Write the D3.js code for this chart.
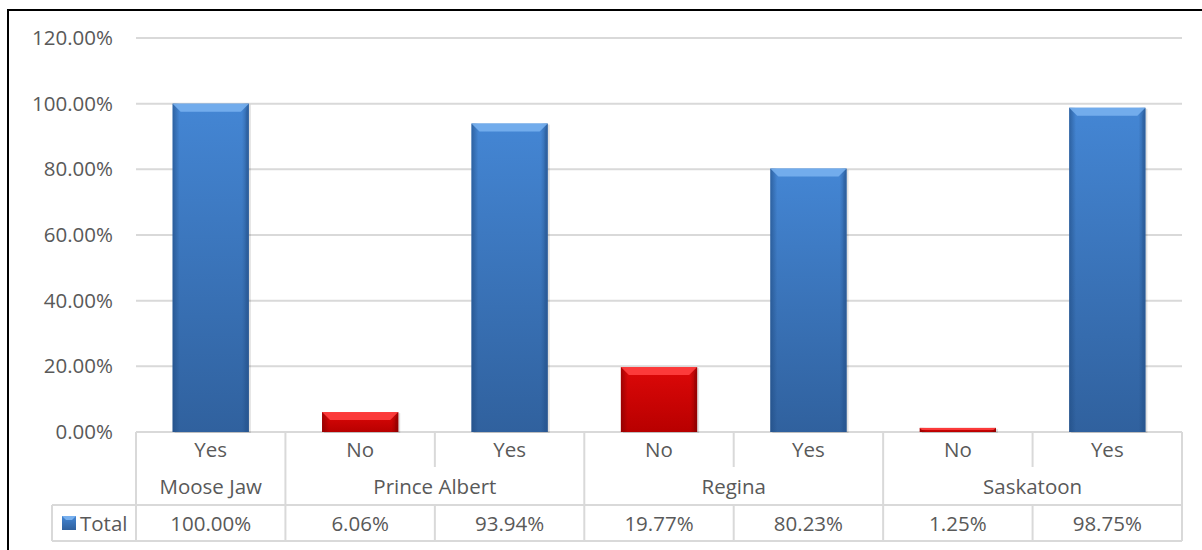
<!DOCTYPE html>
<html><head><meta charset="utf-8">
<script src="https://cdn.jsdelivr.net/npm/d3@7"></script>
<style>body{margin:0;background:#fff}svg{display:block}text{font-family:"Open Sans",sans-serif;fill:#595959}</style>
</head><body><svg id="c" width="1202" height="550"></svg>
<script>
const cities = ["Moose Jaw","Prince Albert","Prince Albert","Regina","Regina","Saskatoon","Saskatoon"];
const answers = ["Yes","No","Yes","No","Yes","No","Yes"];
const values = [100.00, 6.06, 93.94, 19.77, 80.23, 1.25, 98.75];
const groups = ["Moose Jaw","Prince Albert","Regina","Saskatoon"];
const yTicks = [0,20,40,60,80,100,120];
const seriesName = "Total";

const svg = d3.select("#c");
const L=136,R=1182,T=38,B=432;
const FS=20.5;
const idx = d3.range(values.length);
const x = d3.scaleBand().domain(idx).range([L,R]).padding(0);
const y = d3.scaleLinear().domain([0,120]).range([B,T]);
const fmt = v => v.toFixed(2)+"%";

// frame
svg.append("path").attr("d","M8,552 L8,10 L1204,10").attr("fill","none").attr("stroke","#000").attr("stroke-width",2);

const defs = svg.append("defs");
function grads(id,top,bot,edge){
  const g=defs.append("linearGradient").attr("id",id+"v").attr("x1",0).attr("y1",0).attr("x2",0).attr("y2",1);
  g.append("stop").attr("offset",0).attr("stop-color",top);
  g.append("stop").attr("offset",1).attr("stop-color",bot);
  const h=defs.append("linearGradient").attr("id",id+"h").attr("x1",0).attr("y1",0).attr("x2",1).attr("y2",0);
  h.append("stop").attr("offset",0).attr("stop-color",edge).attr("stop-opacity",0.6);
  h.append("stop").attr("offset",0.09).attr("stop-color",edge).attr("stop-opacity",0);
  h.append("stop").attr("offset",0.91).attr("stop-color",edge).attr("stop-opacity",0);
  h.append("stop").attr("offset",1).attr("stop-color",edge).attr("stop-opacity",0.6);
}
grads("blue","#4486d4","#30619e","#1f4a80");
grads("red","#dd0808","#b80000","#7a0000");

// grid
svg.append("g").selectAll("line").data(yTicks).join("line")
  .attr("x1",L).attr("x2",R).attr("y1",d=>y(d)).attr("y2",d=>y(d))
  .attr("stroke","#d9d9d9").attr("stroke-width",2);
// y axis labels
svg.append("g").selectAll("text").data(yTicks).join("text")
  .attr("x",113).attr("y",d=>y(d)+7).attr("text-anchor","end").attr("font-size",FS).text(d=>d.toFixed(2)+"%");

// bars
const bw = x.bandwidth()*0.51;
const bars = svg.append("g").selectAll("g").data(idx).join("g");
bars.each(function(i){
  const g=d3.select(this);
  const col = answers[i]==="Yes"?"blue":"red";
  const x0 = x(i)+(x.bandwidth()-bw)/2, y0=y(values[i]), h=B-y0;
  g.append("rect").attr("x",x0+2).attr("y",y0+1).attr("width",bw).attr("height",h).attr("fill","#000").attr("opacity",0.12);
  g.append("rect").attr("x",x0).attr("y",y0).attr("width",bw).attr("height",h).attr("fill",`url(#${col}v)`);
  g.append("rect").attr("x",x0).attr("y",y0).attr("width",bw).attr("height",h).attr("fill",`url(#${col}h)`);
  const bev = Math.min(8,h/2);
  const light = col==="blue"?"#78b0ee":"#ff4040";
  g.append("path").attr("d",`M${x0},${y0} L${x0+bw},${y0} L${x0+bw-bev},${y0+bev} L${x0+bev},${y0+bev} Z`).attr("fill",light).attr("opacity",0.9);
  const dark = col==="blue"?"#2a5a96":"#8a0000";
  g.append("path").attr("d",`M${x0+bw},${y0} L${x0+bw},${y0+h} L${x0+bw-3},${y0+h} L${x0+bw-3},${y0+bev}`).attr("fill",dark).attr("opacity",0.35);
});

// data table
const tc="#d9d9d9";
const r1=432,r2=467,r3=505,r4=541;
const tg=svg.append("g").attr("stroke",tc).attr("stroke-width",2);
tg.append("line").attr("x1",52).attr("x2",R).attr("y1",r3).attr("y2",r3);
tg.append("line").attr("x1",52).attr("x2",R).attr("y1",r4).attr("y2",r4);
const bounds = idx.map(i=>x(i)).concat([R]);
bounds.forEach(b=>{
  tg.append("line").attr("x1",b).attr("x2",b).attr("y1",r1).attr("y2",r2);
  tg.append("line").attr("x1",b).attr("x2",b).attr("y1",r3).attr("y2",r4);
});
const gStart = groups.map(gn=>cities.indexOf(gn));
const gEnd = groups.map(gn=>cities.lastIndexOf(gn));
gStart.forEach(s=>{tg.append("line").attr("x1",x(s)).attr("x2",x(s)).attr("y1",r2).attr("y2",r3);});
tg.append("line").attr("x1",R).attr("x2",R).attr("y1",r2).attr("y2",r3);
tg.append("line").attr("x1",52).attr("x2",52).attr("y1",r3).attr("y2",r4);

svg.append("g").selectAll("text").data(idx).join("text")
  .attr("x",i=>x(i)+x.bandwidth()/2).attr("y",457).attr("text-anchor","middle").attr("font-size",FS).text(i=>answers[i]);
svg.append("g").selectAll("text").data(groups).join("text")
  .attr("x",(g,k)=>(x(gStart[k])+x(gEnd[k])+x.bandwidth())/2).attr("y",494).attr("text-anchor","middle").attr("font-size",FS).text(d=>d);
svg.append("g").selectAll("text").data(idx).join("text")
  .attr("x",i=>x(i)+x.bandwidth()/2).attr("y",531).attr("text-anchor","middle").attr("font-size",FS).text(i=>fmt(values[i]));
// legend
svg.append("rect").attr("x",62).attr("y",516).attr("width",14).attr("height",14).attr("fill","url(#bluev)");
svg.append("path").attr("d","M62,516 L76,516 L72,520 L66,520 Z").attr("fill","#78b0ee");
svg.append("text").attr("x",80).attr("y",531).attr("font-size",FS).text(seriesName);
</script></body></html>
